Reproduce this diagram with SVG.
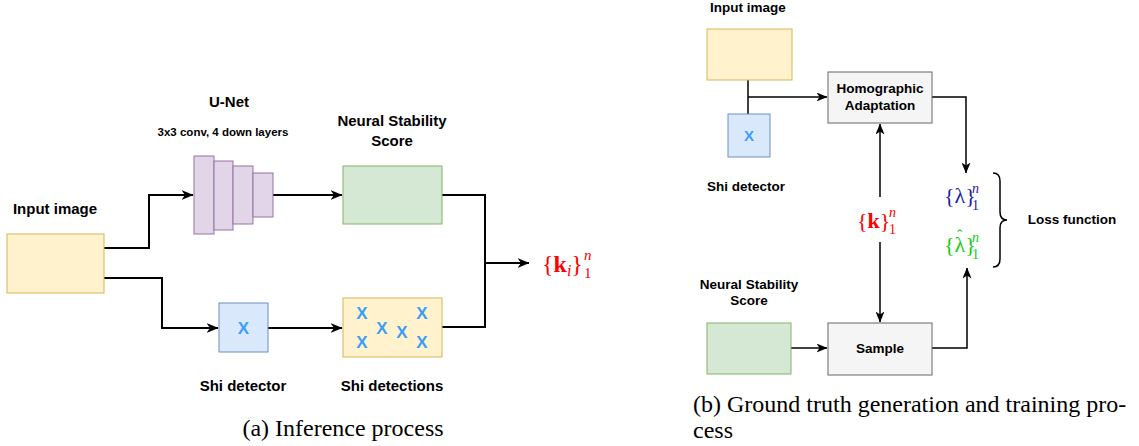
<svg xmlns="http://www.w3.org/2000/svg" width="1139" height="446" viewBox="0 0 1139 446">
<style>
.lbl{font-family:"Liberation Sans",Arial,sans-serif;font-weight:bold;fill:#000;text-anchor:middle}
.l15{font-size:15px}
.l13{font-size:13.5px}
.cap{font-family:"Liberation Serif","Times New Roman",serif;font-size:24px;fill:#000}
.math{font-family:"Liberation Serif","DejaVu Serif",serif}
.yel{fill:#fff2cc;stroke:#d6b656;stroke-width:1}
.pur{fill:#e1d5e7;stroke:#9673a6;stroke-width:1}
.grn{fill:#d5e8d4;stroke:#82b366;stroke-width:1}
.blu{fill:#dae8fc;stroke:#6c8ebf;stroke-width:1}
.gry{fill:#f5f5f5;stroke:#666666;stroke-width:1}
.xm{font-family:"Liberation Sans",Arial,sans-serif;font-weight:bold;fill:#3d9ef5;text-anchor:middle}
.c2{fill:none;stroke:#000;stroke-width:2}
.c15{fill:none;stroke:#000;stroke-width:1.5}
</style>
<defs>
<marker id="ah" viewBox="0 0 12 10" refX="11.5" refY="5" markerWidth="12" markerHeight="10" markerUnits="userSpaceOnUse" orient="auto">
<path d="M0,0 L12,5 L0,10 L3.5,5 z" fill="#000"/>
</marker>
<marker id="ah2" viewBox="0 0 11 9" refX="10.5" refY="4.5" markerWidth="11" markerHeight="9" markerUnits="userSpaceOnUse" orient="auto">
<path d="M0,0 L11,4.5 L0,9 L3,4.5 z" fill="#000"/>
</marker>
</defs>
<rect width="1139" height="446" fill="#fff"/>

<g id="connectors">
<path class="c2" d="M104,248 H149 V195 H193" marker-end="url(#ah)"/>
<path class="c2" d="M104,278 H162 V328 H218" marker-end="url(#ah)"/>
<path class="c2" d="M273,195 H342" marker-end="url(#ah)"/>
<path class="c2" d="M268,328 H342" marker-end="url(#ah)"/>
<path class="c2" d="M442,195 H485 V327 H442"/>
<path class="c2" d="M485,263 H529" marker-end="url(#ah)"/>

<path class="c15" d="M748,80 V114"/>
<path class="c15" d="M748,97 H827" marker-end="url(#ah2)"/>
<path class="c15" d="M932,97 H966 V173" marker-end="url(#ah2)"/>
<path class="c15" d="M880,197 V124" marker-end="url(#ah2)"/>
<path class="c15" d="M880,242 V322" marker-end="url(#ah2)"/>
<path class="c15" d="M791,348 H827" marker-end="url(#ah2)"/>
<path class="c15" d="M932,348 H967 V268" marker-end="url(#ah2)"/>
<path class="c15" d="M993,173 Q1000,173 1000,181 V212 Q1000,220 1007,220 Q1000,220 1000,228 V259 Q1000,267 993,267"/>
</g>

<g id="input-image-a">
<rect class="yel" x="7" y="234" width="97" height="59"/>
<text class="lbl l15" x="55" y="214">Input image</text>
</g>

<g id="unet">
<rect class="pur" x="194" y="156" width="20" height="78"/>
<rect class="pur" x="214" y="161" width="19" height="69"/>
<rect class="pur" x="233" y="166" width="20" height="58"/>
<rect class="pur" x="253" y="173" width="20" height="44"/>
<text class="lbl l15" x="229" y="107">U-Net</text>
<text class="lbl" style="font-size:11.5px" x="223" y="136">3x3 conv, 4 down layers</text>
</g>

<g id="nss-a">
<rect class="grn" x="343" y="166" width="99" height="58"/>
<text class="lbl l15" x="392" y="126">Neural Stability</text>
<text class="lbl l15" x="392" y="146">Score</text>
</g>

<g id="shi-a">
<rect class="blu" x="219" y="303" width="49" height="49"/>
<text class="xm" style="font-size:17px" x="243.5" y="334">X</text>
<text class="lbl l15" x="243" y="391">Shi detector</text>
</g>

<g id="shi-detections">
<rect class="yel" x="343" y="298" width="99" height="59"/>
<text class="xm" style="font-size:17px" x="362" y="319">X</text>
<text class="xm" style="font-size:17px" x="362" y="348">X</text>
<text class="xm" style="font-size:17px" x="382" y="334">X</text>
<text class="xm" style="font-size:17px" x="402" y="338">X</text>
<text class="xm" style="font-size:17px" x="422" y="319">X</text>
<text class="xm" style="font-size:17px" x="422" y="348">X</text>
<text class="lbl l15" x="392" y="391">Shi detections</text>
</g>

<g id="output-k">
<text class="math" fill="#ff0000" x="542" y="272" font-size="24">{<tspan font-weight="bold">k</tspan><tspan font-style="italic" font-size="16" dy="4">i</tspan><tspan dy="-4">}</tspan><tspan x="584" y="260" font-size="15" font-style="italic">n</tspan><tspan x="584" y="278" font-size="15">1</tspan></text>
</g>

<text class="cap" x="343" y="436" text-anchor="middle">(a) Inference process</text>

<g id="input-image-b">
<rect class="yel" x="707" y="29" width="85" height="51"/>
<text class="lbl l13" x="748" y="12">Input image</text>
</g>

<g id="shi-b">
<rect class="blu" x="728" y="114" width="42" height="43"/>
<text class="xm" style="font-size:15px" x="749" y="141">X</text>
<text class="lbl l13" x="746" y="191">Shi detector</text>
</g>

<g id="homographic">
<rect class="gry" x="828" y="72" width="104" height="51"/>
<text class="lbl l13" x="880" y="93">Homographic</text>
<text class="lbl l13" x="880" y="110">Adaptation</text>
</g>

<g id="k-label">
<text class="math" fill="#ff0000" x="857" y="228" font-size="22">{<tspan font-weight="bold">k</tspan>}<tspan x="889" y="217" font-size="14" font-style="italic">n</tspan><tspan x="889" y="234" font-size="14">1</tspan></text>
</g>

<g id="lambda">
<text class="math" fill="#1c1ca8" x="944" y="203" font-size="22">{λ}<tspan x="972" y="193" font-size="14" font-style="italic">n</tspan><tspan x="972" y="210" font-size="14">1</tspan></text>
</g>

<g id="lambda-hat">
<text class="math" fill="#11cc11" x="944" y="252" font-size="22">{λ<tspan dx="-8.2" dy="-11" font-size="16">ˆ</tspan><tspan dx="2.8" dy="11">}</tspan><tspan x="972" y="242" font-size="14" font-style="italic">n</tspan><tspan x="972" y="259" font-size="14">1</tspan></text>
</g>

<g id="loss">
<text class="lbl l13" x="1072" y="224">Loss function</text>
</g>

<g id="nss-b">
<rect class="grn" x="707" y="323" width="84" height="51"/>
<text class="lbl l13" x="749" y="289">Neural Stability</text>
<text class="lbl l13" x="749" y="305">Score</text>
</g>

<g id="sample">
<rect class="gry" x="828" y="323" width="104" height="52"/>
<text class="lbl l13" x="880" y="353">Sample</text>
</g>

<text class="cap" x="693" y="412">(b) Ground truth generation and training pro-</text>
<text class="cap" x="693" y="438">cess</text>
</svg>
